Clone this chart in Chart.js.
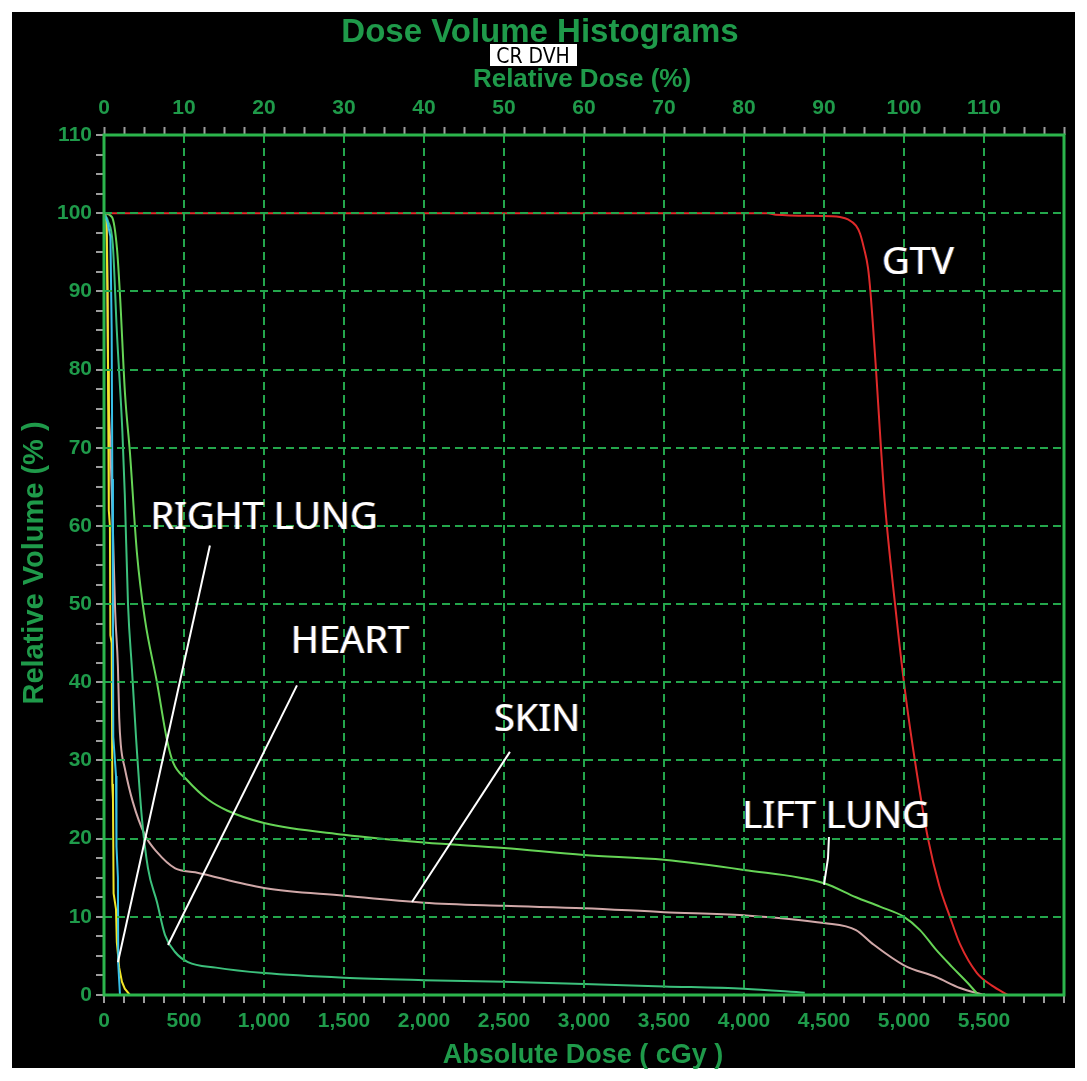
<!DOCTYPE html>
<html>
<head>
<meta charset="utf-8">
<title>Dose Volume Histograms</title>
<script src="https://cdn.jsdelivr.net/npm/chart.js@4.4.1/dist/chart.umd.min.js"></script>
<style>
    html, body { margin: 0; padding: 0; background: #fff; }
    #wrap { width: 1087px; height: 1081px; }
</style>
</head>
<body>
<div id="wrap"><canvas id="dvh" width="1087" height="1081"></canvas></div>
<script>
// values (dose in cGy, volume in %)
const gtvDose = [0, 1000, 2000, 3000, 4150, 4200, 4550, 4600, 4650, 4700, 4725, 4750, 4775, 4790, 4825, 4856, 4880, 4944, 5012, 5087, 5150, 5220, 5287, 5350, 5456, 5550, 5650];
const gtvVolume = [100, 100, 100, 100, 100, 99.8, 99.6, 99.5, 99.2, 98.4, 97.4, 95.5, 93, 90, 80, 70, 63, 50, 38, 27.5, 20, 14, 10, 6.5, 2.8, 1.2, 0];

const leftLungDose = [0, 50, 81, 100, 131, 162, 206, 256, 331, 394, 431, 519, 650, 769, 1000, 1500, 2000, 2500, 3000, 3500, 4000, 4500, 4700, 4850, 5000, 5100, 5200, 5300, 5400, 5456];
const leftLungVolume = [100, 99.5, 95.5, 89.5, 77, 69.4, 56.5, 48, 40, 32.6, 29.8, 27.5, 25, 23.6, 22, 20.5, 19.5, 18.8, 17.9, 17.3, 16, 14.3, 12.5, 11.3, 10, 8.3, 5.8, 3.6, 1.5, 0.2];

const skinDose = [0, 15, 20, 25, 40, 55, 70, 87, 95, 105, 130, 180, 255, 330, 445, 570, 1000, 1500, 2000, 2500, 3000, 3500, 4000, 4500, 4700, 4800, 5000, 5200, 5350, 5500];
const skinVolume = [100, 99, 94, 81, 70, 60, 49, 42, 35.5, 32, 29, 24.7, 20.5, 18.3, 16.2, 15.7, 13.7, 12.7, 11.8, 11.4, 11.1, 10.6, 10.2, 9.2, 8.3, 6.6, 3.8, 2.3, 0.9, 0];

const heartDose = [0, 25, 55, 80, 115, 130, 150, 175, 200, 237, 275, 331, 381, 444, 525, 700, 1000, 1500, 2000, 2500, 3000, 3500, 4000, 4380];
const heartVolume = [100, 99, 96, 85, 72, 64, 50, 41.6, 33, 22.6, 16.2, 11.9, 7.7, 5.5, 4.2, 3.5, 2.8, 2.2, 1.9, 1.7, 1.4, 1.1, 0.8, 0.3];

const rightLungDose = [0, 15, 22, 25, 30, 37, 40, 48, 52, 56, 60, 75, 80, 95, 112, 130, 162];
const rightLungVolume = [100, 99, 90, 80, 62, 60, 46, 45, 27, 25, 13, 11, 6.8, 3.5, 1.7, 0.8, 0];

const cordDose = [0, 20, 40, 48, 52, 56, 58, 75, 78, 87, 89, 100];
const cordVolume = [100, 99, 97, 85, 66, 50, 33, 28, 19, 15, 4, 0];

// annotation texts and the pointer lines drawn on the picture (data units)
const labelText = ['RIGHT LUNG', 'HEART', 'SKIN', 'LIFT LUNG', 'GTV'];
const labelDose = [1000, 1537, 2706, 4575, 5087];
const labelVolume = [61, 45.1, 35.2, 22.8, 93.6];
const pointerDose = [[662, 87], [1206, 400], [2537, 1925], [4531, 4525, 4500]];
const pointerVolume = [[57.5, 4.2], [39.6, 6.4], [31.1, 11.9], [20.2, 17.5, 14.1]];

const GREEN_TEXT = '#1f9a4a';
const GRID_GREEN = '#24a64c';
const FRAME_GREEN = '#2cb54c';
const TICK_GRAY = '#9c9c9c';

function pts(xs, ys) {
    return xs.map((x, i) => ({x: x, y: ys[i]}));
}

function series(label, xs, ys, color, smooth) {
    return {
        label: label,
        data: pts(xs, ys),
        borderColor: color,
        borderWidth: 2,
        pointRadius: 0,
        fill: false,
        cubicInterpolationMode: smooth ? 'monotone' : 'default',
        tension: 0
    };
}

const tickFont = {family: "'Liberation Sans', Arial, sans-serif", size: 21, weight: 'bold'};

const dvhDecor = {
    id: 'dvhDecor',
    beforeDraw(chart) {
        const c = chart.ctx;
        c.save();
        c.fillStyle = '#ffffff';
        c.fillRect(0, 0, chart.width, chart.height);
        c.fillStyle = '#000000';
        c.fillRect(12, 12, 1063, 1056);
        c.restore();
    },
    afterDraw(chart) {
        const c = chart.ctx;
        const a = chart.chartArea;
        const xs = chart.scales.x, ys = chart.scales.y;
        c.save();

        // frame around the plot
        c.strokeStyle = FRAME_GREEN;
        c.lineWidth = 3;
        c.strokeRect(a.left, a.top, a.right - a.left, a.bottom - a.top);

        // pointer lines
        c.strokeStyle = '#ffffff';
        c.lineWidth = 2;
        pointerDose.forEach((ds, k) => {
            c.beginPath();
            ds.forEach((d, j) => {
                const px = xs.getPixelForValue(d), py = ys.getPixelForValue(pointerVolume[k][j]);
                if (j === 0) c.moveTo(px, py); else c.lineTo(px, py);
            });
            c.stroke();
        });

        // structure labels
        c.font = "38px 'Noto Sans', 'Open Sans', sans-serif";
        c.textAlign = 'center';
        c.textBaseline = 'middle';
        labelText.forEach((t, k) => {
            const px = xs.getPixelForValue(labelDose[k]), py = ys.getPixelForValue(labelVolume[k]);
            c.fillStyle = 'rgba(80,140,255,0.6)';
            c.fillText(t, px - 1, py);
            c.fillStyle = 'rgba(255,170,60,0.6)';
            c.fillText(t, px + 1, py);
            c.fillStyle = '#ffffff';
            c.fillText(t, px, py);
        });

        // titles
        c.fillStyle = GREEN_TEXT;
        c.textBaseline = 'alphabetic';
        c.font = "bold 33px 'Liberation Sans', Arial, sans-serif";
        c.fillText('Dose Volume Histograms', 540, 42);
        c.font = "bold 26px 'Liberation Sans', Arial, sans-serif";
        c.fillText('Relative Dose (%)', 582, 87);
        c.font = "bold 27px 'Liberation Sans', Arial, sans-serif";
        c.fillText('Absolute Dose ( cGy )', 583, 1063);

        c.save();
        c.translate(43, 563);
        c.rotate(-Math.PI / 2);
        c.font = "bold 29px 'Liberation Sans', Arial, sans-serif";
        c.fillText('Relative Volume (% )', 0, 0);
        c.restore();

        // CR DVH tag
        c.fillStyle = '#ffffff';
        c.fillRect(490, 44, 87, 22);
        c.fillStyle = '#000000';
        c.font = "21px 'Liberation Sans Narrow', 'DejaVu Sans Condensed', sans-serif";
        c.fillText('CR DVH', 533, 63);

        c.restore();
    }
};

const ctx = document.getElementById('dvh');

new Chart(ctx, {
    type: 'line',
    data: {
        datasets: [
            series('CORD', cordDose, cordVolume, '#38c0e8', false),
            series('RIGHT LUNG', rightLungDose, rightLungVolume, '#f0e628', false),
            series('GTV', gtvDose, gtvVolume, '#e02a2a', true),
            series('LIFT LUNG', leftLungDose, leftLungVolume, '#66d456', true),
            series('HEART', heartDose, heartVolume, '#3cc07c', true),
            series('SKIN', skinDose, skinVolume, '#d0a8a8', true)
        ]
    },
    options: {
        responsive: false,
        animation: false,
        devicePixelRatio: 1,
        layout: {padding: {left: 0, right: 23, top: 0, bottom: 0}},
        plugins: {
            legend: {display: false},
            tooltip: {enabled: false},
            title: {display: false}
        },
        scales: {
            x: {
                type: 'linear',
                position: 'bottom',
                min: 0,
                max: 6000,
                afterFit: s => { s.height = 86; },
                ticks: {
                    stepSize: 125,
                    autoSkip: false,
                    maxRotation: 0,
                    padding: 6,
                    color: GREEN_TEXT,
                    font: tickFont,
                    callback: v => (v % 500 === 0 && v < 6000) ? v.toLocaleString('en-US') : ''
                },
                grid: {
                    z: 1,
                    lineWidth: 2,
                    color: c => (c.tick && c.tick.value % 500 === 0 && c.tick.value > 0 && c.tick.value < 6000) ? GRID_GREEN : 'rgba(0,0,0,0)',
                    tickLength: 8,
                    tickWidth: 2,
                    tickColor: TICK_GRAY
                },
                border: {display: false, dash: [8, 5]}
            },
            x2: {
                type: 'linear',
                axis: 'x',
                position: 'top',
                min: 0,
                max: 120,
                afterFit: s => { s.height = 135; },
                ticks: {
                    stepSize: 2.5,
                    autoSkip: false,
                    maxRotation: 0,
                    padding: 6,
                    color: GREEN_TEXT,
                    font: tickFont,
                    callback: v => (v % 10 === 0 && v < 120) ? String(v) : ''
                },
                grid: {
                    drawOnChartArea: false,
                    tickLength: 8,
                    tickWidth: 2,
                    tickColor: TICK_GRAY
                },
                border: {display: false}
            },
            y: {
                type: 'linear',
                min: 0,
                max: 110,
                afterFit: s => { s.width = 104; },
                ticks: {
                    stepSize: 2.5,
                    autoSkip: false,
                    padding: 4,
                    color: GREEN_TEXT,
                    font: tickFont,
                    callback: v => (v % 10 === 0) ? String(v) : ''
                },
                grid: {
                    z: 1,
                    lineWidth: 2,
                    color: c => (c.tick && c.tick.value % 10 === 0 && c.tick.value > 0 && c.tick.value < 110) ? GRID_GREEN : 'rgba(0,0,0,0)',
                    tickLength: 8,
                    tickWidth: 2,
                    tickColor: TICK_GRAY
                },
                border: {display: false, dash: [8, 5]}
            }
        }
    },
    plugins: [dvhDecor]
});
</script>
</body>
</html>
